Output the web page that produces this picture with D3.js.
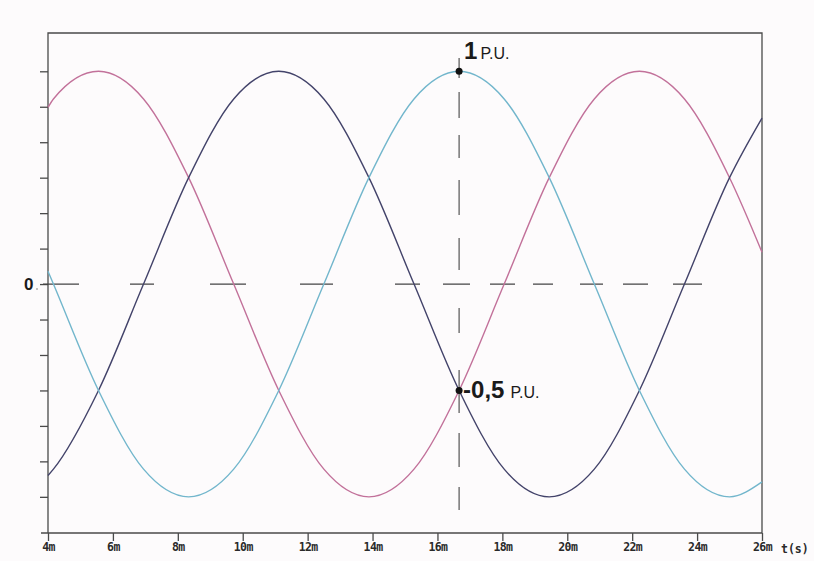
<!DOCTYPE html>
<html>
<head>
<meta charset="utf-8">
<script src="https://cdn.jsdelivr.net/npm/d3@7"></script>
<style>
  body { margin: 0; background: #fdfbfc; }
  svg { display: block; }
</style>
</head>
<body>
<svg width="814" height="561"></svg>
<script>
// time in ms, values in p.u.
var times = [4, 4.167, 5.556, 6.944, 8.333, 9.722, 11.111, 12.5, 13.889, 15.278, 16.667,
             18.056, 19.444, 20.833, 22.222, 23.611, 25, 26];
var pinkValues = [0.83, 0.87, 1, 0.87, 0.5, 0, -0.5, -0.87, -1, -0.87, -0.5,
                  0, 0.5, 0.87, 1, 0.87, 0.5, 0.15];
var darkValues = [-0.9, -0.87, -0.5, 0, 0.5, 0.87, 1, 0.87, 0.5, 0, -0.5,
                  -0.87, -1, -0.87, -0.5, 0, 0.5, 0.78];
var blueValues = [0.06, 0, -0.5, -0.87, -1, -0.87, -0.5, 0, 0.5, 0.87, 1,
                  0.87, 0.5, 0, -0.5, -0.87, -1, -0.93];
var xTicks = [4, 6, 8, 10, 12, 14, 16, 18, 20, 22, 24, 26];
var yTicks = [-1, -5/6, -4/6, -3/6, -2/6, -1/6, 0, 1/6, 2/6, 3/6, 4/6, 5/6, 1];
var markTime = 16.667;
var markValues = [1, -0.5];

var svg = d3.select("svg"),
    plotLeft = 48, plotRight = 762, plotTop = 33, plotBottom = 533;

var x = d3.scaleLinear().domain([4, 26]).range([plotLeft, plotRight]);
var y = d3.scaleLinear().domain([-1.17, 1.18]).range([plotBottom, plotTop]);

var axisColor = "#4a4a4a";

// frame
svg.append("path")
    .attr("d", "M" + plotLeft + "," + plotBottom + "V" + plotTop + "H" + plotRight + "V" + plotBottom)
    .attr("fill", "none")
    .attr("stroke", axisColor)
    .attr("stroke-width", 1.3);

var xAxis = svg.append("g")
    .attr("transform", "translate(0," + plotBottom + ")")
    .call(d3.axisBottom(x).tickValues(xTicks).tickSize(8).tickSizeOuter(0)
        .tickFormat(function(d) { return d + "m"; }));
xAxis.select(".domain").attr("d", "M" + (plotLeft - 7) + ",0H" + plotRight)
    .attr("stroke", axisColor).attr("stroke-width", 1.3);
xAxis.selectAll(".tick line").attr("stroke", axisColor).attr("stroke-width", 1.3);
xAxis.selectAll(".tick text")
    .attr("y", 10)
    .style("font-family", "'DejaVu Sans Mono', monospace")
    .style("font-weight", "bold")
    .style("font-size", "11.5px")
    .style("letter-spacing", "-0.6px")
    .attr("fill", "#2a2a2a");

svg.append("text")
    .attr("x", plotRight + 19)
    .attr("y", plotBottom + 20)
    .style("font-family", "'DejaVu Sans Mono', monospace")
    .style("font-weight", "bold")
    .style("font-size", "11.5px")
    .attr("fill", "#2a2a2a")
    .text("t(s)");

var yAxis = svg.append("g")
    .attr("transform", "translate(" + plotLeft + ",0)")
    .call(d3.axisLeft(y).tickValues(yTicks).tickSize(8).tickFormat(""));
yAxis.select(".domain").remove();
yAxis.selectAll(".tick line").attr("stroke", axisColor).attr("stroke-width", 1.3);

// zero reference, hand-drawn dashes
svg.append("line")
    .attr("x1", plotLeft - 5).attr("x2", 702)
    .attr("y1", y(0)).attr("y2", y(0))
    .attr("stroke", "#444")
    .attr("stroke-width", 1.2)
    .attr("stroke-dasharray", "36,51,24,56,36,54,33,62,25,23,27,20,25,18,20,27,23,20,25,25,29,100");

svg.append("text")
    .attr("x", 24).attr("y", y(0) + 6)
    .style("font-family", "'Liberation Sans', Arial, sans-serif")
    .style("font-weight", "bold")
    .style("font-size", "17px")
    .attr("fill", "#1a1a1a")
    .text("0");
svg.append("circle")
    .attr("cx", 37).attr("cy", y(0) + 5).attr("r", 0.8).attr("fill", "#777");

// waveforms
var line = d3.line()
    .x(function(d) { return x(d[0]); })
    .y(function(d) { return y(d[1]); })
    .curve(d3.curveMonotoneX);

var series = [
    {values: pinkValues, color: "#c2719a"},
    {values: darkValues, color: "#43436a"},
    {values: blueValues, color: "#72b6cc"}
];

svg.append("g")
    .selectAll("path")
    .data(series)
  .enter().append("path")
    .attr("d", function(s) { return line(times.map(function(t, i) { return [t, s.values[i]]; })); })
    .attr("fill", "none")
    .attr("stroke", function(s) { return s.color; })
    .attr("stroke-width", 1.4);

// vertical marker line
svg.append("line")
    .attr("x1", x(markTime)).attr("x2", x(markTime))
    .attr("y1", 58).attr("y2", 510)
    .attr("stroke", "#555")
    .attr("stroke-width", 1.2)
    .attr("stroke-dasharray", "20,14,26,17,23,22,35,23,32,38,25,37,43,20,34,20,23,60");

svg.selectAll("circle.mark")
    .data(markValues)
  .enter().append("circle")
    .attr("class", "mark")
    .attr("cx", x(markTime))
    .attr("cy", function(d) { return y(d); })
    .attr("r", 3.5)
    .attr("fill", "#111");

var labelFont = "'Liberation Sans', Arial, sans-serif";

var lab1 = svg.append("text")
    .attr("x", x(markTime) + 5)
    .attr("y", y(1) - 12)
    .style("font-family", labelFont)
    .attr("fill", "#1a1a1a");
lab1.append("tspan").style("font-size", "24px").style("font-weight", "bold").text("1");
lab1.append("tspan").attr("dx", 3).style("font-size", "16px").text("P.U.");

var lab2 = svg.append("text")
    .attr("x", x(markTime) + 4)
    .attr("y", y(-0.5) + 8)
    .style("font-family", labelFont)
    .attr("fill", "#1a1a1a");
lab2.append("tspan").style("font-size", "24px").style("font-weight", "bold").text("-0,5");
lab2.append("tspan").attr("dx", 6).style("font-size", "16px").text("P.U.");
</script>
</body>
</html>
